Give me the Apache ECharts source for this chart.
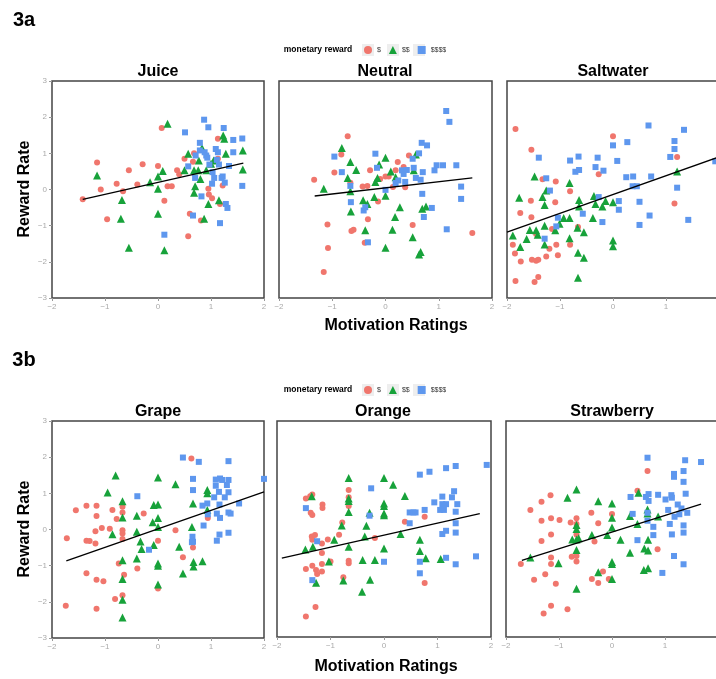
<!DOCTYPE html>
<html>
<head>
<meta charset="utf-8">
<script src="https://cdn.jsdelivr.net/npm/echarts@6/dist/echarts.min.js"></script>
<style>
  html, body { margin: 0; padding: 0; background: #fff; }
  #chart { width: 716px; height: 679px; }
</style>
</head>
<body>
<div id="chart"></div>
<script>
// panel names and reward groups
const panelNames = ['Juice', 'Neutral', 'Saltwater', 'Grape', 'Orange', 'Strawberry']
const rewardLevels = ['$', '$$', '$$$$']
const xTicks = [-2, -1, 0, 1, 2]
const yTicks = [-3, -2, -1, 0, 1, 2, 3]

// [motivation rating, reward rate]
const juiceLow = [[-1.42,-0.27],[-1.15,0.75],[-1.08,0.0],[-0.96,-0.82],[-0.78,0.16],[-0.66,-0.05],[-0.55,0.53],[-0.39,0.14],[-0.29,0.70],[0.0,0.65],[0.07,1.70],[0.12,-0.31],[0.18,0.09],[0.26,0.09],[0.36,0.53],[0.40,0.42],[0.50,0.85],[0.57,-1.29],[0.60,-0.67],[0.66,0.77],[0.68,1.0],[0.81,-0.86],[0.95,0.02],[0.96,-0.14],[1.02,-0.24],[1.13,1.40],[1.17,-0.40],[1.22,0.11],[1.13,0.85]]
const juiceMid = [[-1.15,0.39],[-0.68,-0.29],[-0.70,-0.81],[-0.55,-1.61],[-0.15,0.20],[0,0.36],[0,0.02],[0,-0.67],[0.09,0.51],[0.12,-1.68],[0.18,1.82],[0.50,0.53],[0.57,0.99],[0.68,-0.09],[0.70,0.09],[0.68,0.53],[0.76,0.53],[0.77,0.80],[0.80,0.29],[0.87,-0.81],[0.95,-0.40],[1.0,0.71],[1.05,0.80],[1.15,-0.30],[1.23,1.49],[1.25,1.40],[1.28,0.99],[1.60,1.08],[1.60,0.55],[0.83,1.15],[0.91,0.53]]
const juiceHigh = [[0.12,-1.25],[0.51,1.58],[0.57,0.64],[0.66,-0.72],[0.70,0.32],[0.71,0.94],[0.79,1.29],[0.79,1.08],[0.82,-0.19],[0.87,1.93],[0.88,1.03],[0.91,0.94],[0.93,0.88],[0.95,1.72],[0.97,0.69],[1.02,0.16],[1.06,0.32],[1.09,1.12],[1.13,1.03],[1.15,0.69],[1.17,-0.93],[1.20,0.32],[1.22,0.36],[1.24,1.70],[1.26,0.19],[1.28,-0.40],[1.31,-0.51],[1.34,0.65],[1.42,1.37],[1.42,1.03],[1.59,1.41],[1.59,0.10],[1.03,0.48],[1.11,0.82]]
const juiceFit = [[-1.42,-0.27],[1.61,0.73]]

const neutralLow = [[-1.34,0.27],[-1.16,-2.28],[-1.09,-0.97],[-1.08,-1.62],[-0.96,0.47],[-0.83,0.97],[-0.71,1.47],[-0.66,0.19],[-0.64,-1.15],[-0.60,-1.11],[-0.43,0.08],[-0.34,0.10],[-0.39,-1.47],[-0.33,-0.82],[-0.29,0.53],[-0.14,-0.33],[-0.10,0.29],[0,0.36],[0.06,0.36],[0.14,0.07],[0.19,0.53],[0.23,0.76],[0.34,0.62],[0.37,0.06],[0.44,0.94],[0.51,-0.98],[1.63,-1.20]]
const neutralMid = [[-1.16,0.02],[-0.82,1.15],[-0.66,0.76],[-0.66,-0.05],[-0.65,-0.61],[-0.71,0.32],[-0.55,0.54],[-0.42,-0.30],[-0.38,-1.13],[-0.34,-0.40],[-0.21,-0.21],[-0.19,0.21],[-0.15,0.32],[-0.12,0.69],[0,0.88],[0,-0.17],[0,-1.61],[0.10,0.50],[0.18,-0.76],[0.19,0.34],[0.13,-1.11],[0.27,-0.49],[0.51,-1.32],[0.53,0.53],[0.57,0.97],[0.63,-1.80],[0.66,-1.73],[0.69,-0.53],[0.76,-0.47]]
const neutralHigh = [[-0.96,0.91],[-0.82,0.48],[-0.66,0.10],[-0.65,-0.35],[-0.41,-0.58],[-0.38,-0.49],[-0.33,-1.46],[-0.19,0.99],[-0.16,0.60],[0,-0.01],[0.19,0.18],[0.24,0.25],[0.31,0.53],[0.34,0.43],[0.40,0.54],[0.37,0.21],[0.51,0.85],[0.53,0.60],[0.57,0.32],[0.63,1.0],[0.66,0.27],[0.68,1.29],[0.70,0.48],[0.69,-0.12],[0.72,-0.76],[0.78,1.22],[0.87,-0.51],[0.92,0.53],[0.96,0.67],[1.08,0.67],[1.14,2.17],[1.15,-1.10],[1.20,1.87],[1.33,0.67],[1.42,0.08],[1.42,-0.26]]
const neutralFit = [[-1.33,-0.18],[1.63,0.32]]

const saltLow = [[-1.84,1.67],[-1.54,1.10],[-1.33,0.28],[-1.08,0.22],[-1.55,-0.31],[-1.09,-0.35],[-1.75,-0.65],[-1.54,-0.77],[-0.81,-0.05],[-0.66,-1.04],[-1.15,-1.09],[-1.45,-1.23],[-1.89,-1.53],[-1.85,-1.77],[-1.74,-1.99],[-1.53,-1.94],[-1.45,-1.97],[-1.41,-1.94],[-1.26,-1.85],[-1.20,-1.64],[-1.07,-1.53],[-1.04,-1.82],[-0.81,-1.53],[-1.84,-2.53],[-1.48,-2.56],[-1.41,-2.42],[-0.27,0.42],[0,1.47],[1.21,0.90],[1.16,-0.39]]
const saltMid = [[-1.89,-1.27],[-1.77,-0.23],[-1.75,-1.59],[-1.63,-1.37],[-1.57,-1.12],[-1.48,0.36],[-1.45,-1.13],[-1.42,-1.25],[-1.33,-0.21],[-1.29,-0.43],[-1.29,-1.0],[-1.29,-1.52],[-1.26,-0.03],[-1.09,-1.13],[-1.01,-0.95],[-0.93,-0.79],[-0.82,-0.79],[-0.82,0.18],[-0.82,-1.35],[-0.66,-1.75],[-0.55,-1.89],[-0.66,-2.44],[-0.64,-0.29],[-0.64,-0.47],[-0.67,-1.06],[-0.55,-1.18],[-0.38,-0.79],[-0.36,-0.18],[-0.33,-0.40],[-0.20,-0.47],[-0.14,-0.32],[0,-0.35],[0,-1.41],[0,-1.57],[1.21,0.50]]
const saltHigh = [[-1.40,0.88],[-1.26,0.31],[-1.19,-0.03],[-1.29,-1.36],[-1.07,-1.02],[-1.04,-0.78],[-0.81,0.80],[-0.71,0.49],[-0.64,0.54],[-0.65,0.91],[-0.57,-0.67],[-0.33,0.62],[-0.29,0.88],[-0.27,-0.21],[-0.18,0.52],[-0.20,-0.90],[0,1.22],[0.08,0.79],[0.11,-0.32],[0.11,-0.56],[0.27,1.31],[0.25,0.34],[0.38,0.36],[0.37,0.09],[0.45,0.09],[0.50,-0.34],[0.50,-0.98],[0.67,1.77],[0.69,-0.72],[0.72,0.36],[1.08,0.90],[1.16,1.34],[1.16,1.12],[1.21,0.05],[1.34,1.65],[1.42,-0.84],[1.93,0.78]]
const saltFit = [[-2,-1.18],[2,0.90]]

const grapeLow = [[-1.72,-0.24],[-1.74,-2.11],[-1.55,0.53],[-1.35,0.66],[-1.35,-1.21],[-1.35,-0.31],[-1.29,-0.32],[-1.16,0.66],[-1.16,0.37],[-1.18,-0.05],[-1.18,-0.39],[-1.16,-1.39],[-1.16,-2.19],[-1.06,0.04],[-1.03,-1.43],[-0.91,0.02],[-0.86,0.54],[-0.78,0.29],[-0.74,-0.94],[-0.81,-1.92],[-0.67,0.63],[-0.67,0.47],[-0.67,-0.02],[-0.67,-0.11],[-0.67,-0.26],[-0.64,-1.25],[-0.67,-1.82],[-0.39,-1.08],[-0.27,0.44],[0,-0.31],[0,-1.63],[0.33,-0.02],[0.47,-0.77],[0.66,-0.50],[0.63,1.96],[0.94,0.32]]
const grapeMid = [[-0.95,1.02],[-0.80,1.49],[-0.86,-0.13],[-0.67,0.78],[-0.67,0.33],[-0.67,-0.85],[-0.67,-1.37],[-0.67,-1.94],[-0.67,-2.43],[-0.40,0.38],[-0.40,-0.06],[-0.40,-0.80],[-0.33,-0.33],[-0.31,-0.54],[-0.10,0.20],[-0.08,0.68],[-0.08,-0.43],[0,0.69],[0,1.44],[0,0.32],[0,0.07],[0,-0.94],[0,-1.0],[0,-1.52],[0.33,1.25],[0.40,-0.48],[0.47,-1.22],[0.64,0.07],[0.66,0.72],[0.67,-0.90],[0.67,-1.02],[0.84,-0.88],[0.93,1.09],[0.93,1.0],[0.93,0.54]]
const grapeHigh = [[-0.39,0.92],[-0.17,-0.56],[0.47,1.99],[0.66,1.40],[0.66,1.09],[0.65,-0.20],[0.66,-0.34],[0.64,-0.35],[0.77,1.87],[0.84,0.66],[0.86,0.11],[0.93,0.72],[0.94,0.42],[1.06,0.89],[1.09,1.38],[1.09,1.21],[1.11,0.44],[1.11,-0.31],[1.15,1.04],[1.16,0.69],[1.17,1.41],[1.16,-0.14],[1.17,0.32],[1.21,1.37],[1.26,0.89],[1.30,1.23],[1.33,1.89],[1.33,1.37],[1.33,1.03],[1.33,0.47],[1.33,-0.09],[1.37,0.44],[1.53,0.72],[2.0,1.40]]
const grapeFit = [[-1.73,-0.87],[2,1.04]]

const orangeLow = [[-1.46,0.85],[-1.46,-1.11],[-1.46,-2.43],[-1.38,0.91],[-1.34,0.96],[-1.37,0.45],[-1.34,0.39],[-1.35,-0.21],[-1.34,-0.30],[-1.29,-0.17],[-1.34,-1.02],[-1.27,-1.14],[-1.25,-1.25],[-1.28,-2.17],[-1.15,0.68],[-1.15,0.58],[-1.16,-0.40],[-1.16,-0.67],[-1.16,-0.97],[-1.16,-1.18],[-1.05,-0.29],[-1.00,-0.90],[-0.84,-0.16],[-0.78,0.18],[-0.76,-1.34],[-0.66,1.08],[-0.66,0.88],[-0.66,0.64],[-0.66,-0.88],[-0.66,-0.95],[-0.17,-0.25],[0.39,0.20],[0.76,0.34],[0.76,-1.50]]
const orangeMid = [[-1.47,-0.57],[-1.35,0.91],[-1.33,-0.49],[-1.27,-1.49],[-1.03,-0.90],[-0.93,-0.30],[-0.79,0.10],[-0.76,-1.43],[-0.66,1.42],[-0.66,0.85],[-0.66,0.78],[-0.66,0.47],[-0.66,-0.49],[-0.41,-1.74],[-0.40,-0.86],[-0.36,-0.21],[-0.33,0.09],[-0.27,0.45],[-0.26,-1.41],[-0.17,-0.86],[0,1.42],[0,0.71],[0,0.64],[0,0.43],[0,0.38],[0,-0.54],[0.17,1.23],[0.31,-0.14],[0.39,0.92],[0.67,-0.30],[0.67,-0.61],[0.78,-0.81],[1.06,-0.83]]
const orangeHigh = [[-1.46,0.58],[-1.34,-1.42],[-1.25,-0.34],[-0.27,0.37],[-0.24,1.13],[0,-0.91],[0.48,0.46],[0.55,0.46],[0.59,0.46],[0.48,0.16],[0.67,1.51],[0.67,-0.91],[0.67,-1.23],[0.76,0.53],[0.85,1.59],[0.94,0.74],[1.05,0.53],[1.09,0.90],[1.09,0.69],[1.09,-0.14],[1.12,0.53],[1.16,-0.05],[1.16,-0.80],[1.16,0.69],[1.16,1.69],[1.27,0.88],[1.31,1.05],[1.34,1.75],[1.34,0.48],[1.34,0.16],[1.34,-0.10],[1.34,-0.98],[1.37,0.69],[1.72,-0.76],[1.92,1.78]]
const orangeFit = [[-1.91,-0.81],[1.79,0.43]]

const strawLow = [[-1.72,-0.97],[-1.54,0.53],[-1.47,-1.41],[-1.33,0.76],[-1.33,0.23],[-1.33,-0.33],[-1.29,-2.35],[-1.26,-1.26],[-1.16,0.94],[-1.15,0.30],[-1.15,-0.15],[-1.15,-0.79],[-1.15,-0.97],[-1.15,-2.13],[-1.06,-1.52],[-0.99,0.25],[-0.84,-2.23],[-0.78,0.18],[-0.76,-0.77],[-0.67,0.30],[-0.67,0.14],[-0.67,-0.15],[-0.67,-0.75],[-0.67,-0.90],[-0.39,0.45],[-0.33,-0.35],[-0.38,-1.39],[-0.26,0.16],[-0.26,-1.50],[-0.17,-1.18],[-0.06,-1.39],[0,0.42],[0.48,1.06],[0.67,1.61],[0.86,-0.56]]
const strawMid = [[-1.54,-0.79],[-1.01,-0.95],[-0.84,0.87],[-0.75,-0.29],[-0.67,1.10],[-0.67,0.11],[-0.67,0],[-0.67,-0.29],[-0.67,-0.58],[-0.67,-1.66],[-0.63,-0.26],[-0.38,-0.17],[-0.26,0.77],[-0.26,-1.20],[-0.09,-0.17],[0,0.71],[0,0.31],[0,0.04],[0,-0.92],[0,-0.97],[0,-1.39],[0.16,-0.30],[0.34,0.36],[0.34,-0.66],[0.48,0.14],[0.50,1.01],[0.60,-1.14],[0.61,-0.54],[0.67,0.43],[0.67,0.54],[0.68,-0.30],[0.68,-0.60],[0.68,-1.09],[0.87,0.35]]
const strawHigh = [[0.35,0.89],[0.39,0.42],[0.48,-0.31],[0.64,0.89],[0.67,1.98],[0.69,0.97],[0.69,0.78],[0.67,0.45],[0.67,0.23],[0.78,0.06],[0.78,-0.17],[0.87,0.95],[0.95,-1.22],[1.01,0.82],[1.06,0.53],[1.09,0.14],[1.12,0.94],[1.13,0.87],[1.13,-0.15],[1.17,1.53],[1.17,-0.75],[1.17,1.45],[1.18,0.34],[1.24,0.68],[1.27,0.41],[1.31,0.57],[1.35,1.61],[1.35,1.31],[1.35,0.10],[1.35,-0.10],[1.35,-0.98],[1.38,1.91],[1.39,0.98],[1.42,0.45],[1.68,1.86]]
const strawFit = [[-1.70,-0.87],[1.68,0.69]]

const panelData = [
  [juiceLow, juiceMid, juiceHigh, juiceFit],
  [neutralLow, neutralMid, neutralHigh, neutralFit],
  [saltLow, saltMid, saltHigh, saltFit],
  [grapeLow, grapeMid, grapeHigh, grapeFit],
  [orangeLow, orangeMid, orangeHigh, orangeFit],
  [strawLow, strawMid, strawHigh, strawFit]
]

// layout
const FONT = 'Liberation Sans, Arial, sans-serif'
const grids = [
  { left: 52, top: 81, width: 212, height: 217 },
  { left: 279, top: 81, width: 213, height: 217 },
  { left: 507, top: 81, width: 212, height: 217 },
  { left: 52, top: 421, width: 212, height: 217 },
  { left: 277, top: 421, width: 214, height: 216 },
  { left: 506, top: 421, width: 212, height: 216 }
]
const colors = ['#F0766D', '#17A23A', '#5E97EE']
const shapes = ['circle', 'triangle', 'rect']
const sizes = [6, 8, 6]
const minus = v => String(v).replace('-', '\u2212')

const chart = echarts.init(document.getElementById('chart'))

const series = []
panelData.forEach((sets, i) => {
  for (let j = 0; j < 3; j++) {
    series.push({
      type: 'scatter', name: rewardLevels[j], xAxisIndex: i, yAxisIndex: i,
      data: sets[j], symbol: shapes[j], symbolSize: sizes[j],
      itemStyle: { color: colors[j], opacity: 1 }, silent: true
    })
  }
  series.push({
    type: 'line', name: 'fit', xAxisIndex: i, yAxisIndex: i, data: sets[3],
    symbol: 'none', lineStyle: { color: '#000', width: 1.3 }, silent: true, z: 5
  })
})

const xAxes = grids.map((g, i) => ({
  type: 'value', gridIndex: i, min: xTicks[0], max: xTicks[xTicks.length - 1], interval: 1,
  axisLine: { show: false, onZero: false }, splitLine: { show: false },
  axisTick: { show: true, length: 3, lineStyle: { color: '#999' } },
  axisLabel: { color: '#aaa', fontSize: 8, margin: 5, fontFamily: FONT, formatter: minus }
}))
const yAxes = grids.map((g, i) => ({
  type: 'value', gridIndex: i, min: yTicks[0], max: yTicks[yTicks.length - 1], interval: 1,
  axisLine: { show: false, onZero: false }, splitLine: { show: false },
  axisTick: { show: i % 3 === 0, length: 3, lineStyle: { color: '#999' } },
  axisLabel: { show: i % 3 === 0, color: '#aaa', fontSize: 8, margin: 5, fontFamily: FONT, formatter: minus }
}))

function legendAt(top) {
  return {
    top: top, left: 364, padding: 0, itemWidth: 8, itemHeight: 8, itemGap: 8,
    textStyle: { fontSize: 7, color: '#333', fontFamily: FONT },
    selectedMode: false,
    data: rewardLevels.map((n, j) => ({ name: n, icon: shapes[j] }))
  }
}

function text(x, y, s, font, extra) {
  return Object.assign({
    type: 'text', x: x, y: y, silent: true,
    style: { text: s, font: font, fill: '#000', align: 'center', verticalAlign: 'middle' }
  }, extra || {})
}
function keyBox(cx, cy) {
  return { type: 'rect', silent: true, z: -1, shape: { x: cx - 6, y: cy - 6, width: 12, height: 12 }, style: { fill: '#eeeeee' } }
}

const titleCenters = grids.map(g => g.left + 106)
const graphics = [
  text(24, 20, '3a', 'bold 20px ' + FONT),
  text(24, 360, '3b', 'bold 20px ' + FONT),
  text(318, 50, 'monetary reward', 'bold 8.5px ' + FONT),
  text(318, 390, 'monetary reward', 'bold 8.5px ' + FONT),
  text(25, 189, 'Reward Rate', 'bold 16px ' + FONT, { rotation: Math.PI / 2 }),
  text(25, 529, 'Reward Rate', 'bold 16px ' + FONT, { rotation: Math.PI / 2 }),
  text(396, 326, 'Motivation Ratings', 'bold 16px ' + FONT),
  text(386, 667, 'Motivation Ratings', 'bold 16px ' + FONT)
]
;[50, 390].forEach(cy => {
  ;[368, 393, 419].forEach(cx => graphics.push(keyBox(cx, cy)))
})
panelNames.forEach((n, i) => {
  graphics.push(text(titleCenters[i], grids[i].top - 9, n, 'bold 16px ' + FONT))
})

chart.setOption({
  animation: false,
  backgroundColor: '#fff',
  grid: grids.map(g => Object.assign({
    show: true, borderColor: '#444', borderWidth: 1.5, backgroundColor: 'transparent',
    outerBoundsMode: 'none', containLabel: false
  }, g)),
  xAxis: xAxes,
  yAxis: yAxes,
  legend: [legendAt(46), legendAt(386)],
  graphic: graphics,
  series: series
})
</script>
</body>
</html>
